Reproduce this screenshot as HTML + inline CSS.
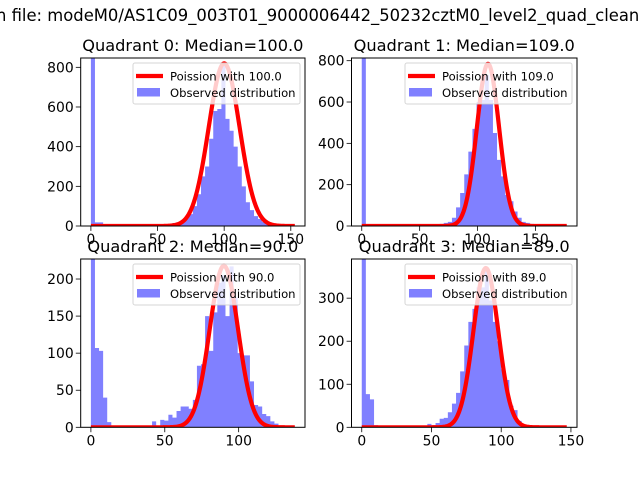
<!DOCTYPE html>
<html><head><meta charset="utf-8"><style>body{margin:0;background:#fff}svg{display:block}text{font-family:"DejaVu Sans","Liberation Sans",sans-serif}</style></head>
<body>
<svg id="fig" width="640" height="480" viewBox="0 0 640 480">
<text x="-4" y="21" font-size="16.4">n file: modeM0/AS1C09_003T01_9000006442_50232cztM0_level2_quad_clean.evt</text>
</svg>
<script>
// ---- data ----
const titles = ["Quadrant 0: Median=100.0","Quadrant 1: Median=109.0","Quadrant 2: Median=90.0","Quadrant 3: Median=89.0"];
const medians = [100, 109, 90, 89];
const curvePeak = [820, 785, 218, 370];
const curveSigma = [11.6, 9.6, 9.6, 8.9];
const dataMax = [153, 177, 138, 147];
const yMax = [847, 813, 227, 391];
const xTicks0 = [0,50,100,150];
const xTicks1 = [0,50,100,150];
const xTicks2 = [0,50,100];
const xTicks3 = [0,50,100,150];
const yTicks0 = [0,200,400,600,800];
const yTicks1 = [0,200,400,600,800];
const yTicks2 = [0,50,100,150,200];
const yTicks3 = [0,100,200,300];
const counts0 = [1000,18,18,2,1,1,1,1,1,1,1,1,1,1,1,1,1,1,1,2,15,18,25,40,60,100,160,250,300,440,580,590,810,540,480,400,300,200,120,80,50,35,20,10,5,2,2,2,2,2];
const counts1 = [1000,1,1,1,1,1,1,1,1,1,1,1,1,1,1,1,1,1,2,10,15,20,40,90,160,250,360,470,600,610,730,610,450,320,240,150,120,70,40,20,15,10,5,2,2,2,2,2,2,2];
const counts2 = [300,107,103,40,7,0,0,0,0,0,0,0,0,0,0,8,0,10,9,17,13,22,28,28,25,37,83,85,150,103,155,195,205,150,217,175,100,97,97,62,30,28,18,15,8,5,1,1,1,1];
const counts3 = [500,77,65,5,0,0,0,0,0,0,0,0,0,0,0,0,8,5,10,20,22,35,55,80,130,190,245,275,325,325,365,295,245,200,135,110,50,40,15,5,1,1,1,1,1,1,1,1,1,1];
const legendLabels = ["Poission with 100.0","Poission with 109.0","Poission with 90.0","Poission with 89.0"];

const NS = "http://www.w3.org/2000/svg";
const svg = document.getElementById("fig");
function el(tag, attrs, parent){const e=document.createElementNS(NS,tag);for(const k in attrs)e.setAttribute(k,attrs[k]);(parent||svg).appendChild(e);return e;}
const boxes = [[80.7,58,305,226],[351.5,58,577,226],[80.7,259,305,427.3],[351.5,259,577,427.3]];
const allCounts=[counts0,counts1,counts2,counts3];
const allXT=[xTicks0,xTicks1,xTicks2,xTicks3];
const allYT=[yTicks0,yTicks1,yTicks2,yTicks3];

for(let q=0;q<4;q++){
  const [L,T,R,B]=boxes[q];
  const dm=dataMax[q], x0=-0.05*dm, x1=dm*1.05;
  const sx=v=>L+(v-x0)/(x1-x0)*(R-L);
  const sy=v=>B-v/yMax[q]*(B-T);
  const g=el("g",{});
  
  
  const cp=el("clipPath",{id:"cp"+q},g);
  el("rect",{x:L,y:T,width:R-L,height:B-T},cp);
  const clip=el("g",{"clip-path":"url(#cp"+q+")"},g);
  const counts=allCounts[q], n=counts.length, w=dm/n;
  let d="";
  counts.forEach((c,k)=>{
    if(c<=0) return;
    const xa=sx(k*w), xb=sx((k+1)*w), yt=sy(c);
    d+="M"+xa.toFixed(2)+","+B+"V"+yt.toFixed(2)+"H"+xb.toFixed(2)+"V"+B+"Z";
  });
  const bars=el("path",{d:d,fill:"#8080ff"},clip);
  
  
  let pts=[];
  for(let x=0;x<=dm;x+=0.5){
    const z=(x-medians[q])/curveSigma[q];
    pts.push(sx(x).toFixed(2)+","+sy(curvePeak[q]*Math.exp(-0.5*z*z)).toFixed(2));
  }
  const line=el("polyline",{points:pts.join(" "),fill:"none",stroke:"#ff0000","stroke-width":4.2,"stroke-linejoin":"round"},clip);
  
  
  const fr=el("rect",{x:L,y:T,width:R-L,height:B-T,fill:"none",stroke:"#000","stroke-width":1},g);
  
  
  allXT[q].forEach(t=>{
    const X=sx(t);
    el("line",{x1:X,x2:X,y1:B,y2:B+4.9,stroke:"#000","stroke-width":0.8},g);
    const tx=el("text",{x:X,y:B+18,"font-size":13.9,"text-anchor":"middle"},g);tx.textContent=t;
    
    
  });
  allYT[q].forEach(t=>{
    const Y=sy(t);
    el("line",{x1:L-4.9,x2:L,y1:Y,y2:Y,stroke:"#000","stroke-width":0.8},g);
    const ty=el("text",{x:L-7,y:Y+5,"font-size":13.9,"text-anchor":"end"},g);ty.textContent=t;
    
    
  });
  const tt=el("text",{x:(L+R)/2,y:T-7,"font-size":16.2,"text-anchor":"middle"},g);tt.textContent=titles[q];
  
  
  const lg=el("g",{},g);
  
  
  const lx=R-172, ly=T+5;
  el("rect",{x:lx,y:ly,width:167,height:41,rx:2,fill:"#fff","fill-opacity":0.8,stroke:"#ccc","stroke-opacity":0.8},lg);
  el("line",{x1:lx+3,x2:lx+30,y1:ly+13,y2:ly+13,stroke:"#ff0000","stroke-width":4.2},lg);
  const l1=el("text",{x:lx+37,y:ly+17.5,"font-size":11.6},lg);l1.textContent=legendLabels[q];
  
  
  el("rect",{x:lx+4,y:ly+25,width:23,height:8.5,fill:"#8080ff"},lg);
  const l2=el("text",{x:lx+37,y:ly+34,"font-size":11.6},lg);l2.textContent="Observed distribution";
  
  
}
</script>
</body></html>
